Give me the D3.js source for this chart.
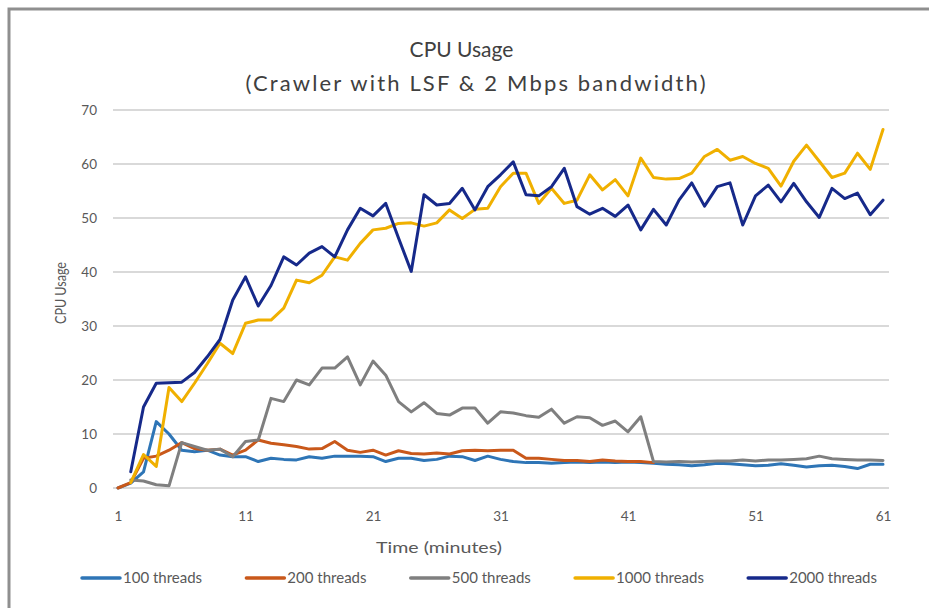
<!DOCTYPE html>
<html>
<head>
<meta charset="utf-8">
<script src="https://cdn.jsdelivr.net/npm/d3@7"></script>
<style>
  html, body { margin: 0; padding: 0; background: #fff; }
  svg { display: block; }
  text { font-family: Lato, "Open Sans", "Noto Sans", sans-serif; }
</style>
</head>
<body>
<svg id="chart" width="929" height="608"></svg>
<script>
// ---------- data ----------
const minutes = d3.range(1, 62);
const xTickLabels = [1, 11, 21, 31, 41, 51, 61];
const yTickLabels = [0, 10, 20, 30, 40, 50, 60, 70];
const seriesNames = ["100 threads", "200 threads", "500 threads", "1000 threads", "2000 threads"];
const seriesColors = ["#2e75b6", "#c9581a", "#7f7f7f", "#f0b000", "#16298a"];

const threads100 = [0, 0.9, 3.0, 12.3, 10.0, 7.0, 6.7, 7.0, 6.1, 5.8,
  5.8, 4.9, 5.5, 5.3, 5.2, 5.8, 5.5, 5.9, 5.9, 5.9,
  5.8, 4.9, 5.5, 5.5, 5.1, 5.3, 5.9, 5.8, 5.1, 5.9,
  5.3, 4.9, 4.7, 4.7, 4.6, 4.7, 4.8, 4.7, 4.8, 4.7,
  4.8, 4.7, 4.6, 4.4, 4.3, 4.1, 4.3, 4.6, 4.5, 4.3,
  4.1, 4.2, 4.5, 4.2, 3.9, 4.1, 4.2, 4.0, 3.6, 4.4, 4.4];
const threads200 = [0, 1.0, 5.5, 5.9, 7.0, 8.4, 7.3, 7.0, 7.2, 6.1,
  7.0, 8.9, 8.3, 8.0, 7.7, 7.2, 7.3, 8.6, 7.0, 6.6,
  7.0, 6.1, 6.9, 6.4, 6.3, 6.5, 6.3, 6.9, 7.0, 6.9,
  7.0, 7.0, 5.5, 5.5, 5.3, 5.1, 5.1, 4.9, 5.2, 5.0,
  4.9, 4.9, 4.7, null, null, null, null, null, null, null,
  null, null, null, null, null, null, null, null, null, null, null];
const threads500 = [null, 1.5, 1.3, 0.6, 0.4, 8.4, 7.7, 7.0, 7.2, 5.8,
  8.6, 8.9, 16.6, 16.0, 20.0, 19.1, 22.2, 22.2, 24.3, 19.1,
  23.5, 20.9, 16.0, 14.1, 15.8, 13.8, 13.5, 14.8, 14.8, 12.0,
  14.1, 13.9, 13.4, 13.1, 14.6, 12.0, 13.2, 13.0, 11.6, 12.4,
  10.4, 13.2, 4.9, 4.8, 4.9, 4.8, 4.9, 5.0, 5.0, 5.2,
  5.0, 5.2, 5.2, 5.3, 5.4, 5.9, 5.4, 5.3, 5.2, 5.2, 5.1];
const threads1000 = [null, 1.0, 6.2, 4.0, 18.6, 16.0, 19.4, 23.0, 26.8, 24.9,
  30.5, 31.1, 31.1, 33.3, 38.5, 38.0, 39.4, 42.8, 42.2, 45.3,
  47.8, 48.1, 49.0, 49.1, 48.5, 49.1, 51.5, 49.9, 51.6, 51.8,
  55.8, 58.3, 58.3, 52.7, 55.5, 52.7, 53.3, 58.0, 55.2, 57.1,
  54.1, 61.1, 57.5, 57.2, 57.3, 58.3, 61.4, 62.7, 60.7, 61.4,
  60.1, 59.2, 55.9, 60.5, 63.5, 60.5, 57.5, 58.3, 62.0, 59.0, 66.4];
const threads2000 = [null, 3.0, 15.0, 19.4, 19.5, 19.6, 21.4, 24.3, 27.5, 34.8,
  39.1, 33.7, 37.5, 42.8, 41.3, 43.5, 44.7, 42.8, 47.8, 51.8,
  50.4, 52.7, 46.3, 40.1, 54.3, 52.4, 52.7, 55.5, 51.5, 55.8,
  58.0, 60.4, 54.3, 54.1, 55.8, 59.2, 52.1, 50.7, 51.8, 50.3,
  52.4, 47.8, 51.6, 48.7, 53.3, 56.5, 52.2, 55.8, 56.5, 48.7,
  54.1, 56.1, 53.0, 56.4, 53.0, 50.1, 55.5, 53.6, 54.6, 50.6, 53.3];
const seriesValues = [threads100, threads200, threads500, threads1000, threads2000];

// ---------- drawing ----------
const svg = d3.select("#chart");
const labelColor = "#595959";

// outer frame
svg.append("path")
  .attr("d", "M9,612 L9,9 L935,9")
  .attr("fill", "none")
  .attr("stroke", "#8f8f8f")
  .attr("stroke-width", 3);

const x = d3.scaleLinear().domain([1, 61]).range([118, 883]);
const y = d3.scaleLinear().domain([0, 70]).range([488, 110]);

// gridlines
svg.append("g").selectAll("line").data(yTickLabels).join("line")
  .attr("x1", 113).attr("x2", 889)
  .attr("y1", d => y(d)).attr("y2", d => y(d))
  .attr("stroke", "#d9d9d9").attr("stroke-width", 1.8);

// y axis labels
const yAxis = d3.axisLeft(y).tickValues(yTickLabels).tickSize(0).tickPadding(0);
const gy = svg.append("g").attr("transform", "translate(97,0)").call(yAxis);
gy.select(".domain").remove();
gy.selectAll("text").attr("fill", labelColor).style("font-size", "13.5px")
  .style("font-family", "Lato, 'Open Sans', sans-serif");

// x axis labels
const xAxis = d3.axisBottom(x).tickValues(xTickLabels).tickSize(0).tickPadding(0).tickFormat(d3.format("d"));
const gx = svg.append("g").attr("transform", "translate(0,511)").call(xAxis);
gx.select(".domain").remove();
gx.selectAll("text").attr("fill", labelColor).style("font-size", "13.5px")
  .style("font-family", "Lato, 'Open Sans', sans-serif");

// lines
const line = d3.line()
  .defined(d => d.v !== null)
  .x(d => x(d.t))
  .y(d => y(d.v))
  .curve(d3.curveLinear);

seriesValues.forEach((vals, i) => {
  const pts = minutes.map((t, k) => ({ t: t, v: vals[k] }));
  svg.append("path")
    .datum(pts)
    .attr("fill", "none")
    .attr("stroke", seriesColors[i])
    .attr("stroke-width", 3)
    .attr("stroke-linejoin", "round")
    .attr("stroke-linecap", "round")
    .attr("d", line);
});

// titles
svg.append("text").attr("x", 461.5).attr("y", 57)
  .attr("text-anchor", "middle").attr("fill", "#404040")
  .style("font-size", "21px")
  .text("CPU Usage");
svg.append("text").attr("x", 475.5).attr("y", 91)
  .attr("text-anchor", "middle").attr("fill", "#404040")
  .style("font-size", "22px")
  .attr("textLength", 460).attr("lengthAdjust", "spacing")
  .text("(Crawler with LSF & 2 Mbps bandwidth)");

// axis titles
svg.append("text").attr("transform", "translate(66,293) rotate(-90)")
  .attr("text-anchor", "middle").attr("fill", labelColor)
  .style("font-size", "15px")
  .attr("textLength", 62).attr("lengthAdjust", "spacingAndGlyphs")
  .text("CPU Usage");
svg.append("text").attr("x", 439).attr("y", 553)
  .attr("text-anchor", "middle").attr("fill", labelColor)
  .style("font-size", "16px")
  .attr("textLength", 126).attr("lengthAdjust", "spacingAndGlyphs")
  .text("Time (minutes)");

// legend
const legend = svg.append("g");
const lineLen = 38, symGap = 3;
const items = seriesNames.map((name, i) => {
  const g = legend.append("g");
  g.append("line").attr("x1", 0).attr("x2", lineLen).attr("y1", 0).attr("y2", 0)
    .attr("stroke", seriesColors[i]).attr("stroke-width", 3.5).attr("stroke-linecap", "round");
  const t = g.append("text").attr("x", lineLen + symGap).attr("y", 5)
    .attr("fill", labelColor).style("font-size", "15px").text(name);
  return { g: g, w: lineLen + symGap + t.node().getComputedTextLength() };
});
const legStart = 82, legEnd = 877;
const totalW = d3.sum(items, d => d.w);
const itemGap = (legEnd - legStart - totalW) / (items.length - 1);
let cx = legStart;
items.forEach(it => {
  it.g.attr("transform", `translate(${cx},578)`);
  cx += it.w + itemGap;
});
</script>
</body>
</html>
